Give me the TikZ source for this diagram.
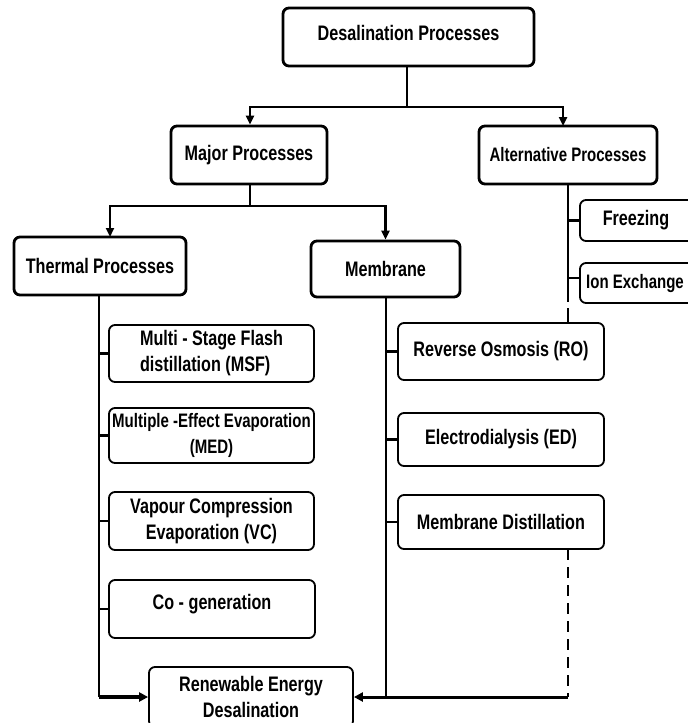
\documentclass[tikz,border=0pt]{standalone}
\usepackage{fontspec}
\setmainfont{Liberation Sans}[FakeStretch=0.77]
\usetikzlibrary{arrows.meta}
\begin{document}
\begin{tikzpicture}[x=1pt,y=-1pt,
  lbl/.style={font=\fontsize{21}{26}\selectfont\bfseries},
  sml/.style={font=\fontsize{19.5}{26}\selectfont\bfseries},
  bigbox/.style={draw, line width=2.8pt, rounded corners=6pt, inner sep=0pt, align=center, lbl},
  subbox/.style={draw, line width=1.8pt, rounded corners=6pt, inner sep=0pt, align=center, lbl},
  conn/.style={line width=2.4pt},
  arr/.style={conn, -{Triangle[length=9pt,width=8pt]}},
  dashline/.style={line width=2pt, dash pattern=on 11pt off 7pt}]
\useasboundingbox (0,0) rectangle (688,723);
\clip (0,0) rectangle (688,723);

% top level
\node[bigbox, minimum width=251pt, minimum height=58pt] (desal) at (408.5,37) {\raisebox{-3pt}[0pt][0pt]{Desalination Processes}};
\node[bigbox, minimum width=156pt, minimum height=58pt] (major) at (249,155) {Major Processes};
\node[bigbox, sml, minimum width=178pt, minimum height=58pt] (alt) at (568,155) {Alternative Processes};
\node[bigbox, minimum width=172pt, minimum height=58pt] (thermal) at (100,266) {Thermal Processes};
\node[bigbox, minimum width=149pt, minimum height=56pt] (membrane) at (385.5,269) {Membrane};

% alternative children
\node[subbox, minimum width=120pt, minimum height=41pt] (freezing) at (640,220.5) {\hspace*{-8pt}Freezing};
\node[subbox, sml, minimum width=120pt, minimum height=40pt] (ion) at (640,283) {\hspace*{-10pt}Ion Exchange};

% thermal children
\node[subbox, align=left, minimum width=205pt, minimum height=57pt] (msf) at (211.5,353.5) {Multi - Stage Flash\\distillation (MSF)};
\node[subbox, sml, minimum width=205pt, minimum height=55pt] (med) at (211.5,435.5) {Multiple -Effect Evaporation\\(MED)};
\node[subbox, minimum width=205pt, minimum height=58pt] (vc) at (211.5,521) {Vapour Compression\\Evaporation (VC)};
\node[subbox, minimum width=206pt, minimum height=58pt] (cogen) at (212,609) {\raisebox{0pt}[0pt][0pt]{Co - generation}};

% membrane children
\node[subbox, minimum width=206pt, minimum height=57pt] (ro) at (501,351.5) {Reverse Osmosis (RO)};
\node[subbox, minimum width=206pt, minimum height=53pt] (ed) at (501,439.5) {Electrodialysis (ED)};
\node[subbox, minimum width=206pt, minimum height=54pt] (md) at (501,522) {Membrane Distillation};

% bottom
\node[subbox, minimum width=204pt, minimum height=60pt] (renew) at (251,697) {Renewable Energy\\Desalination};

% connectors: top
\coordinate (j1) at (407,107);
\coordinate (j2) at (250,206);
\coordinate (ta) at (110,237);
\coordinate (aa) at (563,126);
\draw[conn] (desal.south -| j1) -- (j1);
\draw[arr] (j1) -| (major.north -| j2);
\draw[arr] (j1) -| (aa);
\draw[conn] (major.south -| j2) -- (j2);
\draw[arr] (j2) -| (ta);
\draw[arr] (j2) -| (membrane.north);

% alternative branch
\coordinate (as) at (568,302);
\coordinate (mdb) at (568,549);
\coordinate (bend) at (568,697);
\draw[conn] (alt.south) -- (as);
\draw[conn] (freezing.west -| as) -- (freezing.west);
\draw[conn] (568,278) -- (580,278);
\draw[line width=2pt, dash pattern=on 16pt off 6pt, dash phase=16pt] (as) -- (ro.north -| as);

% thermal branch
\coordinate (tb) at (99,697);
\draw[conn] (thermal.south -| tb) -- (tb);
\draw[line width=3.4pt, -{Triangle[length=9pt,width=9pt]}] (tb) -- (renew.west);
\foreach \n in {msf,med,vc,cogen} \draw[conn] (\n.west -| tb) -- (\n.west);

% membrane branch
\coordinate (mb) at (386,697);
\draw[conn] (membrane.south -| mb) -- (mb);
\foreach \n in {ro,ed,md} \draw[conn] (\n.west -| mb) -- (\n.west);
\draw[dashline] (mdb) -- (bend);
\draw[line width=3pt, -{Triangle[length=9pt,width=9pt]}] (bend) -- (renew.east);
\end{tikzpicture}
\end{document}
